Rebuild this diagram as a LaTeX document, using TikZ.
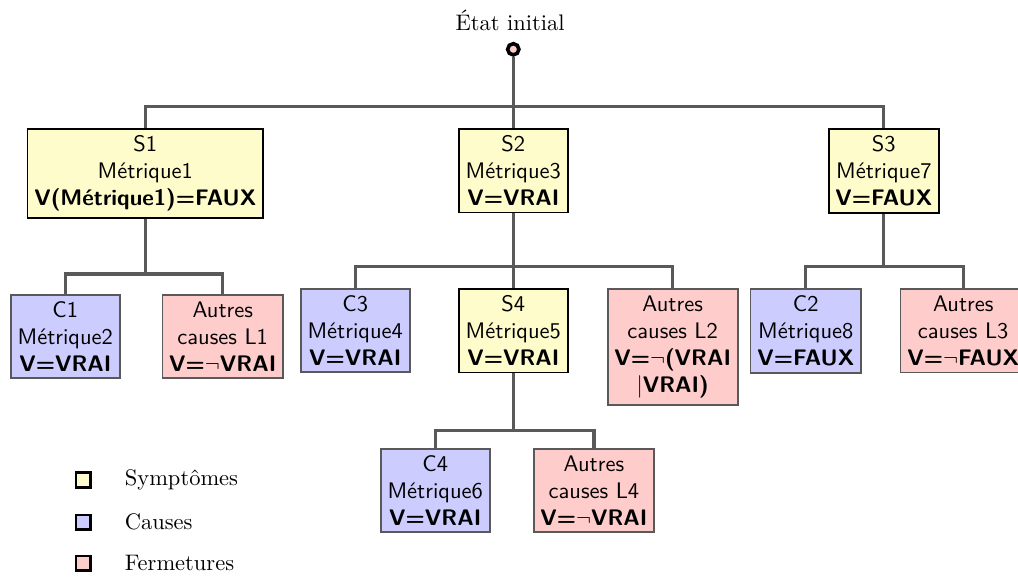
\documentclass[tikz,border=0pt]{standalone}
\usepackage{fontspec}
\usepackage{tikz}
\usetikzlibrary{arrows}

\begin{document}
\begin{tikzpicture}[thick,
  sym node/.style={rectangle,fill=yellow!20,draw=black,align=center,anchor=north,
    inner sep=3pt,font=\sffamily},
  cause node/.style={sym node,fill=blue!20,draw=black!65},
  ferm node/.style={sym node,fill=red!20,draw=black!65},
  link/.style={draw=black!65,line width=1.4pt},
  leg node/.style={rectangle,draw=black,line width=1.1pt,minimum size=6.5pt,inner sep=0pt}]

  \useasboundingbox (0,0) rectangle (15.906,-9);

  \node (init) at (7.97,-0.32) {État initial};
  \node[circle,draw=black,fill=red!20,line width=1.6pt,minimum size=5pt,inner sep=0pt] (root) at (8.02,-0.77) {};

  \node[sym node] (s1) at (2.27,-2) {S1\\Métrique1\\\textbf{V(Métrique1)=FAUX}};
  \node[sym node] (s2) at (8.02,-2) {S2\\Métrique3\\\textbf{V=VRAI}};
  \node[sym node] (s3) at (13.81,-2) {S3\\Métrique7\\\textbf{V=FAUX}};

  \node[cause node] (c1) at (1.02,-4.59) {C1\\Métrique2\\\textbf{V=VRAI}};
  \node[ferm node] (l1) at (3.48,-4.59) {Autres\\causes L1\\\textbf{V=$\neg$VRAI}};
  \node[cause node] (c3) at (5.55,-4.5) {C3\\Métrique4\\\textbf{V=VRAI}};
  \node[sym node] (s4) at (8.02,-4.5) {S4\\Métrique5\\\textbf{V=VRAI}};
  \node[ferm node] (l2) at (10.51,-4.5) {Autres\\causes L2\\\textbf{V=$\neg$(VRAI}\\\textbf{$|$VRAI)}};
  \node[cause node] (c2) at (12.59,-4.5) {C2\\Métrique8\\\textbf{V=FAUX}};
  \node[ferm node] (l3) at (15.05,-4.5) {Autres\\causes L3\\\textbf{V=$\neg$FAUX}};

  \node[cause node] (c4) at (6.80,-7) {C4\\Métrique6\\\textbf{V=VRAI}};
  \node[ferm node] (l4) at (9.28,-7) {Autres\\causes L4\\\textbf{V=$\neg$VRAI}};

  % branches
  \coordinate (b0) at (8.02,-1.67);
  \coordinate (b1) at (2.27,-4.28);
  \coordinate (b2) at (8.02,-4.16);
  \coordinate (b3) at (13.81,-4.16);
  \coordinate (b4) at (8.02,-6.72);

  \draw[link] (root) -- (b0) -| (s1.north);
  \draw[link] (b0) -| (s3.north);
  \draw[link] (b0) -- (s2.north);

  \draw[link] (s1.south) -- (b1) -| (c1.north);
  \draw[link] (b1) -| (l1.north);
  \draw[link] (s2.south) -- (b2) -| (c3.north);
  \draw[link] (b2) -| (l2.north);
  \draw[link] (b2) -- (s4.north);
  \draw[link] (s3.south) -- (b3) -| (c2.north);
  \draw[link] (b3) -| (l3.north);
  \draw[link] (s4.south) -- (b4) -| (c4.north);
  \draw[link] (b4) -| (l4.north);

  % legende
  \node[leg node,fill=yellow!20] (ls) at (1.30,-7.5) {};
  \node[leg node,fill=blue!20] (lc) at (1.30,-8.16) {};
  \node[leg node,fill=red!20] (lf) at (1.30,-8.80) {};
  \node[anchor=west] (ts) at (1.82,-7.5) {Symptômes};
  \node[anchor=west] (tc) at (1.82,-8.16) {Causes};
  \node[anchor=west] (tf) at (1.82,-8.80) {Fermetures};

\end{tikzpicture}
\end{document}
